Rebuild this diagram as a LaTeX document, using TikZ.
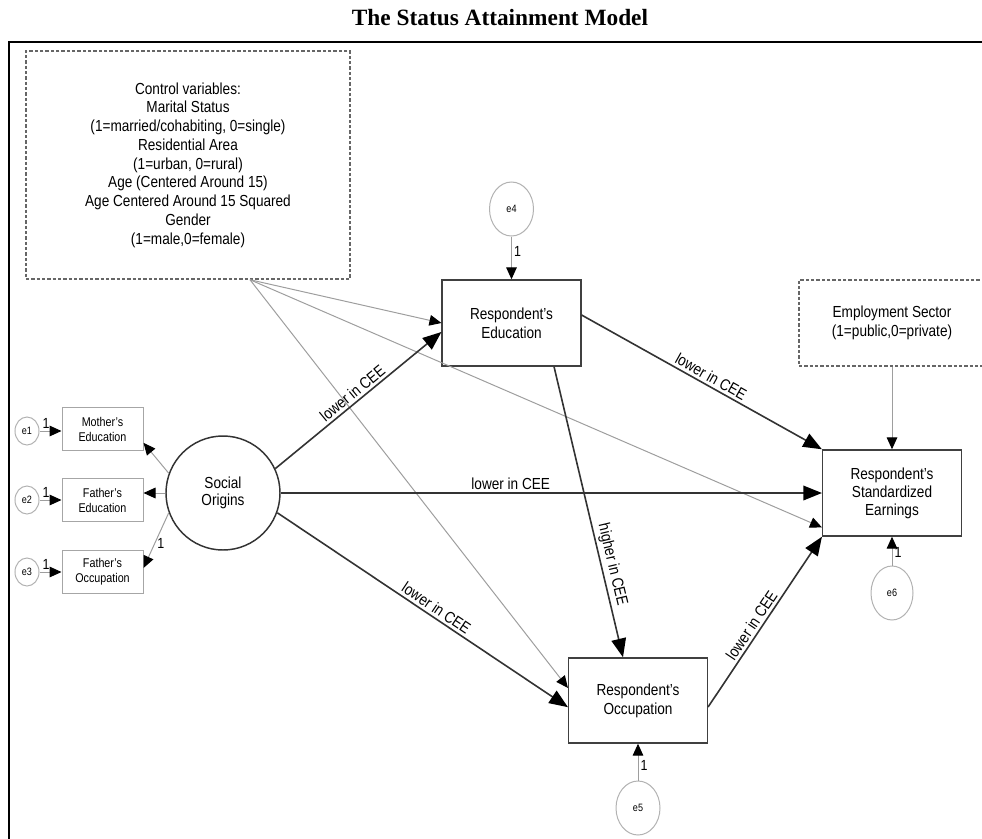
\documentclass[tikz,border=0pt]{standalone}
\usepackage{fontspec}
\setmainfont{Liberation Sans}[FakeStretch=0.85]
\newfontfamily\titulofont{Liberation Serif}
\usetikzlibrary{arrows.meta,shapes.geometric}

\tikzset{
  caja/.style={draw=black!75, line width=1.1pt, minimum width=104pt,
    minimum height=64.5pt, inner sep=0pt, align=center,
    font=\fontsize{12}{14.2}\selectfont},
  cajita/.style={draw=black!35, line width=0.75pt, minimum width=60.75pt,
    minimum height=32pt, inner sep=0pt, align=center,
    font=\fontsize{9.5}{11.25}\selectfont},
  control/.style={draw=black!60, dash pattern=on 2.5pt off 1.5pt,
    line width=1.1pt, inner sep=0pt, align=center},
  error/.style={ellipse, draw=black!30, line width=0.75pt, inner sep=0pt,
    font=\fontsize{8}{9}\selectfont},
  camino/.style={draw=black!80, line width=1.2pt,
    -{Triangle[length=14pt,width=11pt,color=black]}},
  gris/.style={draw=black!38, line width=0.75pt,
    -{Triangle[length=9pt,width=8pt,color=black]}},
  etiq/.style={font=\fontsize{12}{13}\selectfont, sloped, above, inner sep=2pt},
  uno/.style={font=\fontsize{11}{12}\selectfont, inner sep=1.5pt},
}

\begin{document}
\begin{tikzpicture}[x=0.75pt, y=-0.75pt]
  \useasboundingbox (0,0) rectangle (982,839);
  \clip (0,0) rectangle (982,839);

  % Titulo y marco
  \node[font={\titulofont\bfseries\fontsize{17.5}{20}\selectfont}] (titulo) at (500,18) {The Status Attainment Model};
  \draw[line width=1.6pt] (9,900) -- (9,42) -- (1100,42);

  % Variables de control
  \node[control, minimum width=243pt, minimum height=171pt,
    font=\fontsize{12}{14.06}\selectfont] (ctrl) at (188,165)
    {Control variables:\\ Marital Status\\ (1=married/cohabiting, 0=single)\\
     Residential Area\\ (1=urban, 0=rural)\\ Age (Centered Around 15)\\
     Age Centered Around 15 Squared\\ Gender\\ (1=male,0=female)};
  \node[control, minimum width=139.5pt, minimum height=64.5pt,
    font=\fontsize{12}{14.2}\selectfont] (empleo) at (892,323)
    {Employment Sector\\(1=public,0=private)};

  % Variables principales
  \node[caja] (redu) at (511.5,323) {Respondent's\\Education};
  \node[caja, font=\fontsize{12}{13.6}\selectfont] (ingreso) at (892,493) {Respondent's\\Standardized\\Earnings};
  \node[caja, minimum height=63.75pt] (ocup) at (638,700.5) {Respondent's\\Occupation};
  \node[circle, draw=black!80, line width=1.1pt, minimum size=85.5pt, inner sep=0pt,
    align=center, font=\fontsize{12}{12.75}\selectfont] (origen) at (223,493) {Social\\Origins};

  % Indicadores
  \node[cajita] (madre) at (102.5,429) {Mother's\\Education};
  \node[cajita] (padreed) at (102.5,500) {Father's\\Education};
  \node[cajita] (padreoc) at (102.5,572) {Father's\\Occupation};

  % Errores
  \node[error, minimum width=18pt, minimum height=21pt] (e1) at (27,431) {e1};
  \node[error, minimum width=18pt, minimum height=21pt] (e2) at (27,500) {e2};
  \node[error, minimum width=18pt, minimum height=21pt] (e3) at (27,572) {e3};
  \node[error, minimum width=33pt, minimum height=40.5pt] (e4) at (511.5,209) {e4};
  \node[error, minimum width=33pt, minimum height=40.5pt] (e5) at (638,808) {e5};
  \node[error, minimum width=31.5pt, minimum height=40.5pt] (e6) at (892,593) {e6};

  % Flechas de los errores
  \draw[gris] (e1.east) -- (e1.east -| madre.west) node[pos=0.3, above, uno] {1};
  \draw[gris] (e2.east) -- (e2.east -| padreed.west) node[pos=0.3, above, uno] {1};
  \draw[gris] (e3.east) -- (e3.east -| padreoc.west) node[pos=0.3, above, uno] {1};
  \draw[gris] (e4.south) -- (redu.north) node[pos=0.35, right, uno] {1};
  \draw[gris] (e5.north) -- (ocup.south) node[pos=0.4, right, uno] {1};
  \draw[gris] (e6.north) -- (ingreso.south) node[pos=0.45, right, uno] {1};

  % Origen social -> indicadores
  \draw[gris] (origen.160) -- ([yshift=6pt]madre.south east);
  \draw[gris] (origen.west) -- ([yshift=5.25pt]padreed.east);
  \draw[gris] (origen.200) -- ([yshift=3pt]padreoc.east) node[pos=0.55, right, uno] {1};

  % Control -> variables
  \coordinate (c0) at ([xshift=46.5pt]ctrl.south);
  \draw[gris] (c0) -- (redu.west);
  \draw[gris] (c0) -- ([yshift=7pt]ingreso.south west);
  \draw[gris] (c0) -- ([yshift=9.4pt]ocup.west);
  \draw[gris] (empleo.south) -- (ingreso.north);

  % Caminos principales
  \draw[camino] (origen.25) -- ([yshift=-6.75pt]redu.west)
    node[etiq, pos=0.5] {lower in CEE};
  \draw[camino] (origen.east) -- (ingreso.west)
    node[etiq, pos=0.425] {lower in CEE};
  \draw[camino] (origen.-20) -- ([yshift=-5pt]ocup.west)
    node[etiq, pos=0.53] {lower in CEE};
  \draw[camino] ([yshift=6pt]redu.east) -- (ingreso.north west)
    node[etiq, pos=0.52] {lower in CEE};
  \draw[camino] ([xshift=31.9pt]redu.south) -- ([xshift=-11.25pt]ocup.north)
    node[etiq, pos=0.69] {higher in CEE};
  \draw[camino] ([yshift=-4.9pt]ocup.east) -- (ingreso.south west)
    node[etiq, pos=0.45] {lower in CEE};
\end{tikzpicture}
\end{document}
